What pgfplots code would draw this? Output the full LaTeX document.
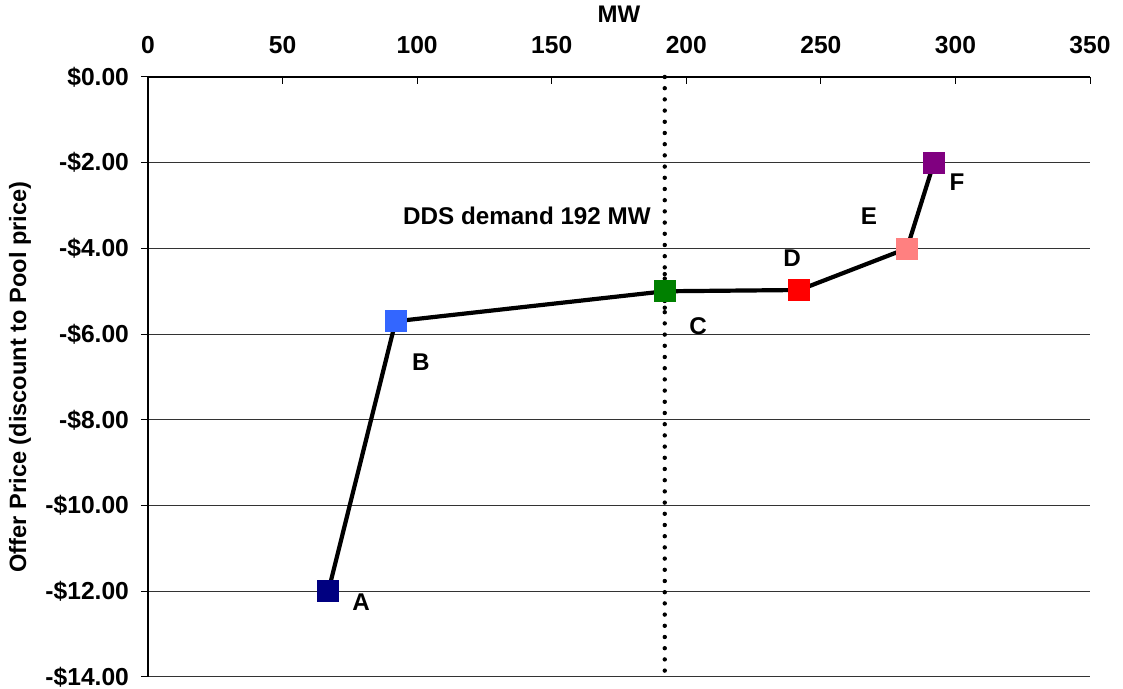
\documentclass[border=0pt]{standalone}
\usepackage{pgfplots}
\pgfplotsset{compat=1.18}
\usepackage{fontspec}
\setmainfont{Liberation Sans}
\definecolor{cA}{RGB}{0,0,128}
\definecolor{cB}{RGB}{51,102,255}
\definecolor{cC}{RGB}{0,128,0}
\definecolor{cD}{RGB}{255,0,0}
\definecolor{cE}{RGB}{255,128,128}
\definecolor{cF}{RGB}{128,0,128}
\begin{document}
\begin{tikzpicture}
\begin{axis}[
  name=ax,
  scale only axis,
  width=471pt, height=300pt,
  xmin=0, xmax=350, ymin=-14, ymax=0,
  axis x line=top, axis y line=left,
  axis line style={-, black, line width=0.6pt},
  xtick={0,50,...,350},
  ytick={-14,-12,...,0},
  yticklabels={-\$14.00,-\$12.00,-\$10.00,-\$8.00,-\$6.00,-\$4.00,-\$2.00,\$0.00},
  xtick align=inside, ytick align=outside,
  major tick length=3.5pt,
  tick style={black, line width=0.5pt},
  ymajorgrids,
  major grid style={black!80, line width=0.5pt},
  /pgf/number format/assume math mode=true,
  every tick label/.append style={font=\fontsize{12.3}{14}\selectfont\bfseries},
  xticklabel style={yshift=8pt},
  yticklabel style={xshift=-2.5pt},
  xlabel={MW},
  xlabel style={at={(axis description cs:0.5,1)}, anchor=center, yshift=31.5pt, font=\fontsize{12}{14}\selectfont\bfseries},
  ylabel={Offer Price (discount to Pool price)},
  ylabel style={at={(axis description cs:0,0.5)}, anchor=center, yshift=64pt, font=\fontsize{11.8}{14}\selectfont\bfseries},
  clip=false,
]
\addplot[black, line width=2.2pt, dash pattern=on 0pt off 5.6pt, line cap=round] coordinates {(192,0) (192,-14)};
\addplot[black, line width=2.1pt, mark=none] coordinates {
(67,-12) (92,-5.7) (192,-5.0) (242,-4.97) (282,-4.0) (292,-2.0)};
\addplot[only marks, mark=square*, mark size=5.25pt, color=cA] coordinates {(67,-12)};
\addplot[only marks, mark=square*, mark size=5.25pt, color=cB] coordinates {(92,-5.7)};
\addplot[only marks, mark=square*, mark size=5.25pt, color=cC] coordinates {(192,-5.0)};
\addplot[black, line width=2.2pt, dash pattern=on 0pt off 5.6pt, line cap=round] coordinates {(192,-4.6) (192,-5.4)};
\addplot[only marks, mark=square*, mark size=5.25pt, color=cD] coordinates {(242,-4.97)};
\addplot[only marks, mark=square*, mark size=5.25pt, color=cE] coordinates {(282,-4.0)};
\addplot[only marks, mark=square*, mark size=5.25pt, color=cF] coordinates {(292,-2.0)};
\begin{scope}[every node/.style={font=\fontsize{12.1}{14}\selectfont\bfseries}]
\node at (axis cs:79.2,-12.25) {A};
\node at (axis cs:101.4,-6.65) {B};
\node at (axis cs:204.4,-5.81) {C};
\node at (axis cs:239.3,-4.22) {D};
\node at (axis cs:267.9,-3.24) {E};
\node at (axis cs:300.6,-2.45) {F};
\node at (axis cs:140.8,-3.24) {DDS demand 192 MW};
\end{scope}
\end{axis}
\pgfresetboundingbox
\path ([xshift=-74pt,yshift=-6pt]ax.south west) rectangle ([xshift=16.5pt,yshift=38.5pt]ax.north east);
\end{tikzpicture}
\end{document}
